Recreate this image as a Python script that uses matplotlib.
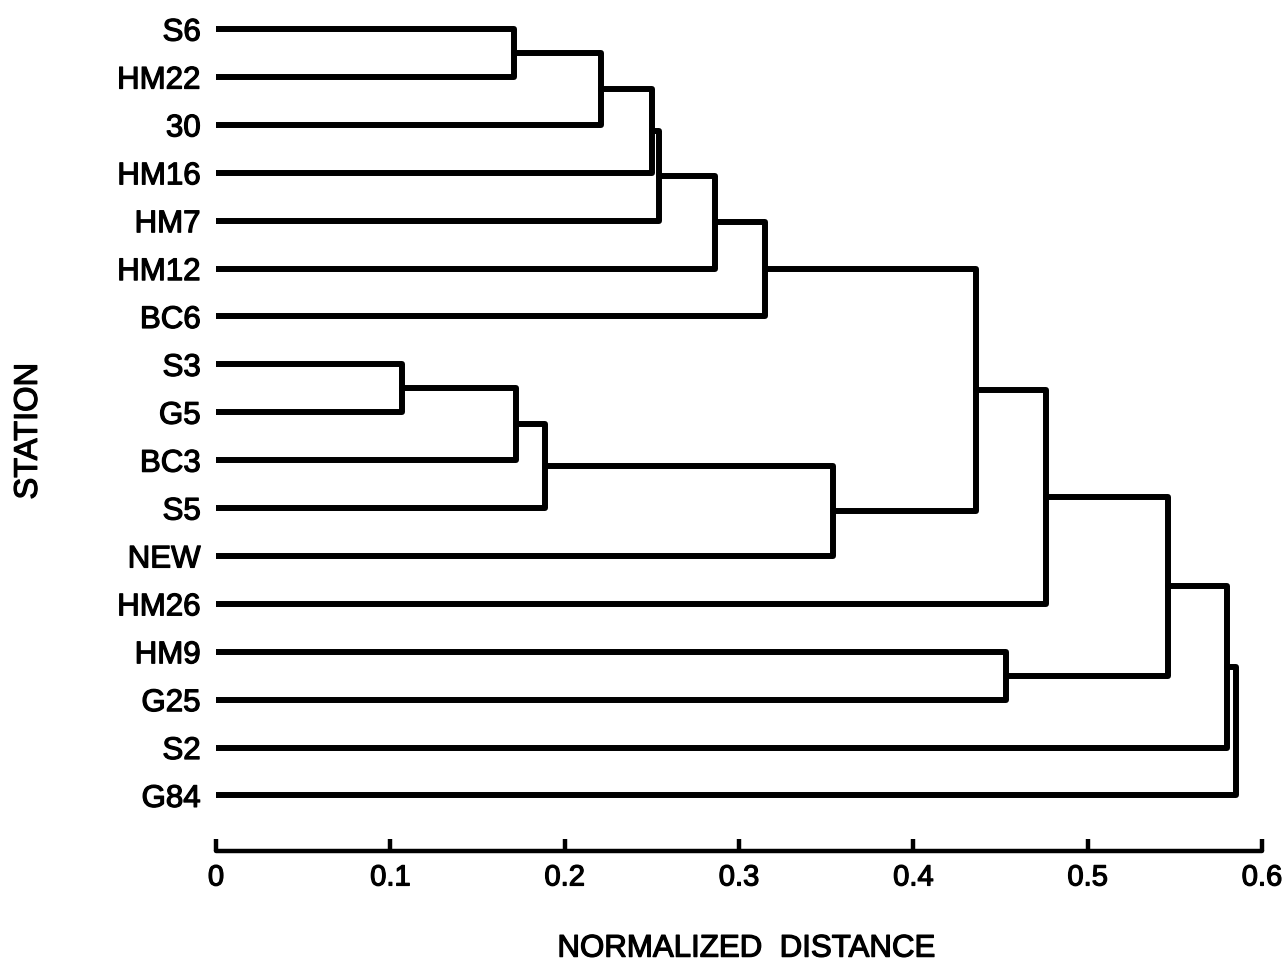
import matplotlib.pyplot as plt
import matplotlib.patheffects as pe

plt.rcParams["font.family"] = ["Liberation Sans", "DejaVu Sans"]

stations = ["S6", "HM22", "30", "HM16", "HM7", "HM12", "BC6",
            "S3", "G5", "BC3", "S5", "NEW", "HM26",
            "HM9", "G25", "S2", "G84"]

# linkage: (left, right, distance); ids >= len(stations) are earlier merges
merge_left = [0, 17, 18, 19, 20, 21, 7, 23, 24, 25, 22, 27, 13, 28, 30, 31]
merge_right = [1, 2, 3, 4, 5, 6, 8, 9, 10, 11, 26, 12, 14, 29, 15, 16]
merge_dist = [0.171, 0.221, 0.250, 0.254, 0.286, 0.315, 0.107, 0.172,
              0.189, 0.354, 0.436, 0.476, 0.453, 0.546, 0.580, 0.585]

xticks = [0, 0.1, 0.2, 0.3, 0.4, 0.5, 0.6]
xtick_labels = ["0", "0.1", "0.2", "0.3", "0.4", "0.5", "0.6"]

# slightly heavier text, like the scanned original
heavy = [pe.withStroke(linewidth=0.9, foreground="black")]

fig = plt.figure(figsize=(12.87, 9.67), dpi=100)
ax = fig.add_axes([0.1678, 0.12, 0.8127, 0.8697])

lw = 4.3
n = len(stations)
pos = {i: float(i) for i in range(n)}
height = {i: 0.0 for i in range(n)}

for k in range(len(merge_dist)):
    a, b, d = merge_left[k], merge_right[k], merge_dist[k]
    ax.plot([height[a], d, d, height[b]], [pos[a], pos[a], pos[b], pos[b]],
            color="black", lw=lw, solid_joinstyle="round",
            solid_capstyle="round")
    pos[n + k] = (pos[a] + pos[b]) / 2
    height[n + k] = d

ax.set_xlim(0, 0.6)
ax.set_ylim(17.16, -0.40)

ax.set_yticks(range(n))
ax.set_yticklabels(stations, fontsize=22.5)
ax.tick_params(axis="y", length=0, pad=11)

ax.set_xticks(xticks)
ax.set_xticklabels(xtick_labels, fontsize=21)
ax.tick_params(axis="x", direction="in", length=9, width=3.2, pad=9)

for lab in ax.get_xticklabels() + ax.get_yticklabels():
    lab.set_path_effects(heavy)

for s in ["top", "right", "left"]:
    ax.spines[s].set_visible(False)
ax.spines["bottom"].set_linewidth(3.2)
ax.spines["bottom"].set_capstyle("round")

fig.text(0.022, 0.554, "STATION", rotation=90, fontsize=23.5,
         ha="center", va="center", path_effects=heavy)
fig.text(0.580, 0.019, "NORMALIZED  DISTANCE", fontsize=22.5,
         ha="center", va="center", path_effects=heavy)

plt.savefig("out.png", dpi=100)
